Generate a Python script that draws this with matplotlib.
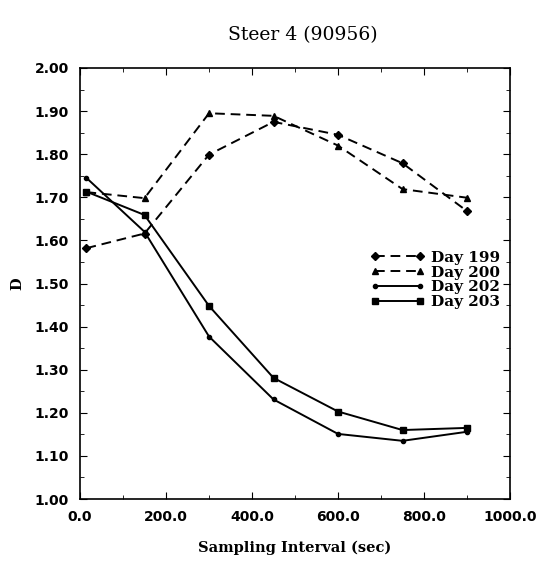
import matplotlib.pyplot as plt
from matplotlib.ticker import MultipleLocator, FormatStrFormatter

# sampling interval (sec) and fractal dimension D per day
interval = [15, 150, 300, 450, 600, 750, 900]
day199 = [1.582, 1.616, 1.799, 1.875, 1.845, 1.779, 1.668]
day200 = [1.712, 1.698, 1.895, 1.889, 1.820, 1.719, 1.699]
day202 = [1.745, 1.620, 1.377, 1.231, 1.151, 1.135, 1.156]
day203 = [1.713, 1.659, 1.448, 1.281, 1.203, 1.160, 1.165]

fig = plt.figure(figsize=(5.38, 5.61), dpi=100)
ax = fig.add_axes([0.1487, 0.1105, 0.7993, 0.7683])

dash = (0, (5, 3))
ax.plot(interval, day199, color="black", linestyle=dash, linewidth=1.4,
        marker="D", markersize=4.5, label="Day 199")
ax.plot(interval, day200, color="black", linestyle=dash, linewidth=1.4,
        marker="^", markersize=4.5, label="Day 200")
ax.plot(interval, day202, color="black", linestyle="-", linewidth=1.4,
        marker="o", markersize=3, label="Day 202")
ax.plot(interval, day203, color="black", linestyle="-", linewidth=1.4,
        marker="s", markersize=4.5, label="Day 203")

ax.set_xlim(0, 1000)
ax.set_ylim(1.0, 2.0)
ax.xaxis.set_major_locator(MultipleLocator(200))
ax.xaxis.set_minor_locator(MultipleLocator(100))
ax.yaxis.set_major_locator(MultipleLocator(0.1))
ax.yaxis.set_minor_locator(MultipleLocator(0.05))
ax.xaxis.set_major_formatter(FormatStrFormatter("%.1f"))
ax.yaxis.set_major_formatter(FormatStrFormatter("%.2f"))
ax.tick_params(which="both", direction="in", top=True, right=True)
ax.tick_params(which="major", length=5, pad=8)
ax.tick_params(which="minor", length=3)
for lab in ax.get_xticklabels() + ax.get_yticklabels():
    lab.set_fontweight("bold")
    lab.set_fontsize(10)
for s in ax.spines.values():
    s.set_linewidth(1.2)

ax.set_xlabel("Sampling Interval (sec)", family="DejaVu Serif",
              fontweight="bold", fontsize=10.5, labelpad=12)
ax.set_ylabel("D", family="DejaVu Serif", fontweight="bold", fontsize=10.5, labelpad=7)
fig.text(0.563, 0.937, "Steer 4 (90956)", family="DejaVu Serif",
         fontsize=13.5, ha="center", va="center")

leg = ax.legend(loc="upper left", bbox_to_anchor=(0.66, 0.59), frameon=False,
                handlelength=3.6, numpoints=2, labelspacing=0.05,
                handletextpad=0.4, borderaxespad=0,
                prop={"family": "DejaVu Serif", "weight": "bold", "size": 11})

fig.savefig("out.png", dpi=100)
